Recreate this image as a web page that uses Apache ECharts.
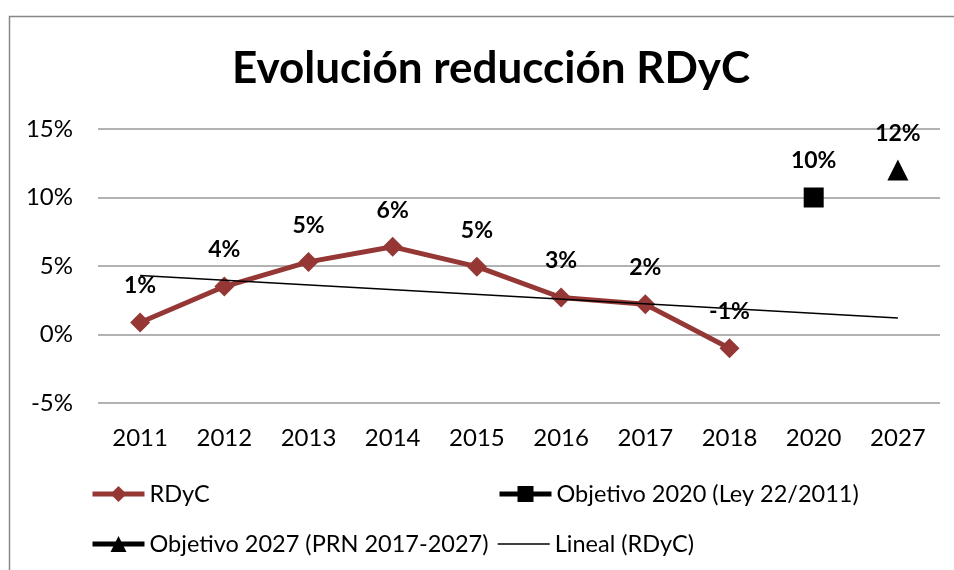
<!DOCTYPE html>
<html><head><meta charset="utf-8">
<script src="https://cdn.jsdelivr.net/npm/echarts@6/dist/echarts.min.js"></script>
<style>html,body{margin:0;padding:0;background:#fff}#c{width:954px;height:570px}</style>
</head><body><div id="c"></div>
<script>
const categories = ['2011','2012','2013','2014','2015','2016','2017','2018','2020','2027'];
const rdyc = [0.88, 3.5, 5.3, 6.4, 4.95, 2.7, 2.2, -1.0, null, null];
const rdycLabels = ['1%','4%','5%','6%','5%','3%','2%','-1%','',''];
const objetivo2020 = [null,null,null,null,null,null,null,null,10,null];
const objetivo2027 = [null,null,null,null,null,null,null,null,null,12];
const lineal = [4.3,null,null,null,null,null,null,null,null,1.2];
const yTicks = {min:-5, max:15, interval:5};

const FONT = 'Lato';
const chart = echarts.init(document.getElementById('c'), null, {renderer:'canvas'});
const lbl = (fmt) => ({show:true, position:'top', distance:15, color:'#000', fontFamily:FONT, fontWeight:'bold', fontSize:23, formatter:fmt});
const legendBase = {orient:'horizontal', padding:0, itemWidth:52, itemHeight:20, itemGap:10,
  textStyle:{fontFamily:FONT, fontSize:23.5, color:'#000'},
  lineStyle:{width:5}};
chart.setOption({
  animation:false,
  textStyle:{fontFamily:FONT},
  title:{text:'Evolución reducción RDyC', left:486, textAlign:'center', top:42,
    textStyle:{fontFamily:FONT, fontWeight:'bold', fontSize:44, color:'#000'}},
  graphic:[{type:'rect', shape:{x:9.5, y:16.5, width:1000, height:1000}, style:{fill:'none', stroke:'#888', lineWidth:1.5}, z:-1}],
  grid:{left:98, right:14, top:129, bottom:167, containLabel:false},
  legend:[
    Object.assign({}, legendBase, {left:90, top:482, data:['RDyC']}),
    Object.assign({}, legendBase, {left:497, top:482, data:['Objetivo 2020 (Ley 22/2011)']}),
    Object.assign({}, legendBase, {left:90, top:532, data:['Objetivo 2027 (PRN 2017-2027)']}),
    Object.assign({}, legendBase, {left:497, top:532, data:['Lineal (RDyC)'],
      lineStyle:{width:1.5}, itemStyle:{opacity:0}})
  ],
  xAxis:{type:'category', data:categories, boundaryGap:true,
    axisLine:{show:false}, axisTick:{show:false},
    axisLabel:{margin:23, fontFamily:FONT, fontSize:24, color:'#000'}},
  yAxis:{type:'value', min:yTicks.min, max:yTicks.max, interval:yTicks.interval,
    axisLine:{show:false}, axisTick:{show:false},
    axisLabel:{margin:25, fontFamily:FONT, fontSize:24, color:'#000', formatter:'{value}%'},
    splitLine:{lineStyle:{color:'#999', width:1.5}}},
  series:[
    {name:'RDyC', type:'line', data:rdyc, symbol:'diamond', symbolSize:[20,20],
      lineStyle:{color:'#953735', width:5}, itemStyle:{color:'#953735'},
      label:lbl(p => rdycLabels[p.dataIndex]), z:3},
    {name:'Objetivo 2020 (Ley 22/2011)', type:'line', data:objetivo2020, symbol:'rect', symbolSize:20,
      lineStyle:{color:'#000', width:5}, itemStyle:{color:'#000'},
      label:lbl(p => p.value + '%'), z:4},
    {name:'Objetivo 2027 (PRN 2017-2027)', type:'line', data:objetivo2027, symbol:'triangle', symbolSize:21,
      lineStyle:{color:'#000', width:5}, itemStyle:{color:'#000'},
      label:lbl(p => p.value + '%'), z:4},
    {name:'Lineal (RDyC)', type:'line', data:lineal, connectNulls:true, symbol:'none', showSymbol:false,
      lineStyle:{color:'#000', width:1.5}, itemStyle:{color:'#000'}, z:5}
  ]
});
</script></body></html>
